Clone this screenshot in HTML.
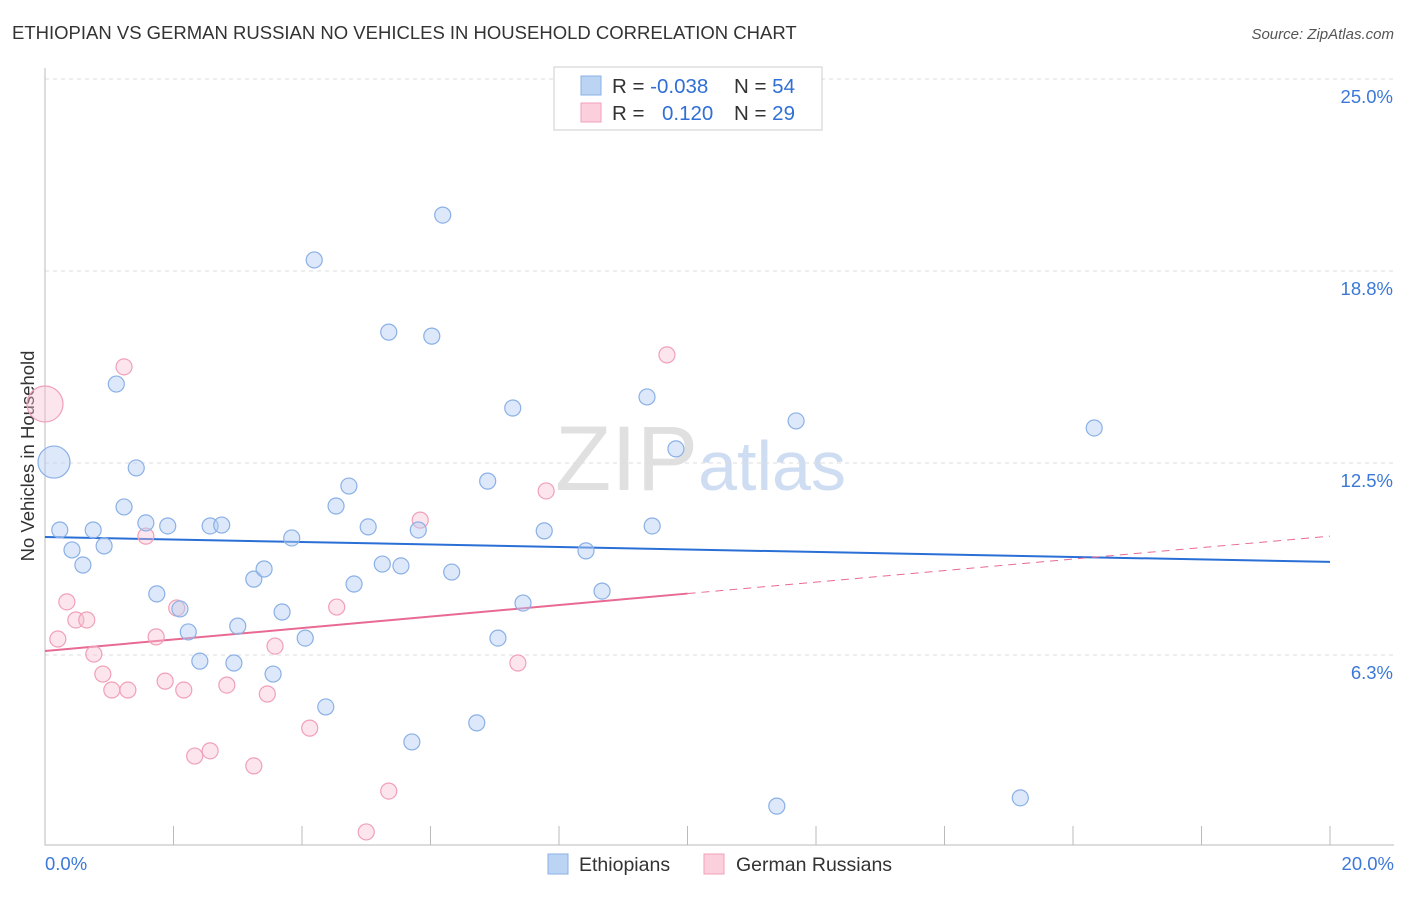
<!DOCTYPE html>
<html><head><meta charset="utf-8"><style>
body{margin:0;background:#fff;font-family:"Liberation Sans",sans-serif;}
svg text{font-family:"Liberation Sans",sans-serif;}
</style></head><body>
<svg id="chart" width="1406" height="892" xmlns="http://www.w3.org/2000/svg">
<text x="12" y="39" font-size="18.5" fill="#333">ETHIOPIAN VS GERMAN RUSSIAN NO VEHICLES IN HOUSEHOLD CORRELATION CHART</text>
<text x="1394" y="39" font-size="15" fill="#555" text-anchor="end" font-style="italic">Source: ZipAtlas.com</text>
<text x="555" y="490" font-size="92" fill="#e0e0e0" font-family="Liberation Serif">ZIP<tspan fill="#cfddf2" font-family="Liberation Sans" font-size="70">atlas</tspan></text>
<text transform="translate(34,456) rotate(-90)" font-size="18.5" fill="#333" text-anchor="middle">No Vehicles in Household</text>
<g id="grid"></g><g id="axes"></g><g id="trend"></g><g id="points"></g>
<g>
<rect x="554" y="67" width="268" height="63" fill="#fff" stroke="#ccc"/>
<rect x="581" y="76" width="20" height="19" fill="#bcd4f4" stroke="#8ab0e6"/>
<rect x="581" y="103" width="20" height="19" fill="#fbd0dc" stroke="#f0a0b8"/>
<text x="612" y="93" font-size="20.5" fill="#333">R = <tspan fill="#2f6fd6">-0.038</tspan></text>
<text x="734" y="93" font-size="20.5" fill="#333">N = <tspan fill="#2f6fd6">54</tspan></text>
<text x="612" y="120" font-size="20.5" fill="#333">R = <tspan fill="#2f6fd6" x="662">0.120</tspan></text>
<text x="734" y="120" font-size="20.5" fill="#333">N = <tspan fill="#2f6fd6">29</tspan></text>
</g>
<g>
<rect x="548" y="854" width="20" height="20" fill="#bcd4f4" stroke="#8ab0e6"/>
<text x="579" y="871" font-size="19.5" fill="#333">Ethiopians</text>
<rect x="704" y="854" width="20" height="20" fill="#fbd0dc" stroke="#f0a0b8"/>
<text x="736" y="871" font-size="19.5" fill="#333">German Russians</text>
</g>
</svg>
<script>
const blueX=[0.14,0.23,0.42,0.59,0.75,0.92,1.11,1.23,1.42,1.57,1.74,1.91,2.10,2.23,2.41,2.57,2.75,2.94,3.00,3.25,3.41,3.55,3.69,3.84,4.05,4.19,4.37,4.53,4.73,4.81,5.03,5.25,5.35,5.54,5.71,5.81,6.02,6.19,6.33,6.72,6.89,7.05,7.28,7.44,7.77,8.42,8.67,9.37,9.45,9.82,11.39,11.69,15.18,16.33];
const blueY=[12.53,10.32,9.67,9.18,10.32,9.80,15.07,11.07,12.34,10.55,8.24,10.45,7.75,7.00,6.05,10.45,10.48,5.99,7.19,8.72,9.05,5.63,7.65,10.06,6.80,19.11,4.56,11.10,11.75,8.56,10.42,9.21,16.76,9.15,3.42,10.32,16.63,20.57,8.95,4.04,11.91,6.80,14.29,7.94,10.29,9.64,8.33,14.65,10.45,12.96,1.33,13.87,1.60,13.64];
const pinkX=[0,0.20,0.34,0.48,0.65,0.76,0.90,1.04,1.23,1.29,1.57,1.73,1.87,2.05,2.16,2.33,2.57,2.83,3.25,3.46,3.58,4.12,4.54,5.00,5.35,5.84,7.36,7.80,9.68];
const pinkY=[14.42,6.77,7.98,7.39,7.39,6.28,5.63,5.11,15.63,5.11,10.12,6.84,5.40,7.78,5.11,2.96,3.13,5.27,2.64,4.98,6.54,3.87,7.81,0.49,1.82,10.64,5.99,11.59,16.02];
const blueTrend=[10.09,9.28];
const pinkTrend=[6.38,10.12];
const yTicks=[25.0,18.75,12.5,6.25];
const yTickLabels=["25.0%","18.8%","12.5%","6.3%"];
const xTicks=[0,2,4,6,8,10,12,14,16,18,20];
const X=v=>45+v*64.25, Y=v=>847-v*30.72;
const NS="http://www.w3.org/2000/svg";
function mk(p,t,a){const e=document.createElementNS(NS,t);for(const k in a)e.setAttribute(k,a[k]);document.getElementById(p).appendChild(e);return e;}
yTicks.forEach((t,i)=>{
 const l=mk('grid','line',{x1:45,x2:1394,y1:Y(t),y2:Y(t),stroke:'#ddd','stroke-dasharray':'4,4'});
 
 
 const tx=mk('grid','text',{x:1393,y:Y(t)+24,'font-size':18.5,fill:'#3b78d8','text-anchor':'end'});
 tx.textContent=yTickLabels[i];
 
 
});
const ax=mk('axes','path',{d:'M45,68V845H1394',stroke:'#bbb',fill:'none'});


xTicks.forEach(t=>{
 const l=mk('axes','line',{x1:X(t),x2:X(t),y1:826,y2:845,stroke:'#bbb'});
 
 
});
[[0,'0.0%','start',45],[20,'20.0%','end',1394]].forEach(a=>{
 const tx=mk('axes','text',{x:a[3],y:870,'font-size':18.5,fill:'#3b78d8','text-anchor':a[2]});
 tx.textContent=a[1];
 
 
});
const pv=x=>pinkTrend[0]+(pinkTrend[1]-pinkTrend[0])*x/20;
let t1=mk('trend','line',{x1:X(0),y1:Y(blueTrend[0]),x2:X(20),y2:Y(blueTrend[1]),stroke:'#2a6fd6','stroke-width':2});


let t2=mk('trend','line',{x1:X(0),y1:Y(pv(0)),x2:X(10),y2:Y(pv(10)),stroke:'#e86a93','stroke-width':2});


let t3=mk('trend','line',{x1:X(10),y1:Y(pv(10)),x2:X(20),y2:Y(pv(20)),stroke:'#e86a93','stroke-width':1,'stroke-dasharray':'8,6'});


pinkX.forEach((x,i)=>{
 const c=mk('points','circle',{cx:X(x),cy:Y(pinkY[i]),r:i==0?18:8,fill:'rgba(248,190,208,0.4)',stroke:'#f0a0b8','stroke-width':1.2});
 
 
});
blueX.forEach((x,i)=>{
 const c=mk('points','circle',{cx:X(x),cy:Y(blueY[i]),r:i==0?16:8,fill:'rgba(180,206,244,0.45)',stroke:'#8ab0e6','stroke-width':1.2});
 
 
});
</script>
</body></html>
